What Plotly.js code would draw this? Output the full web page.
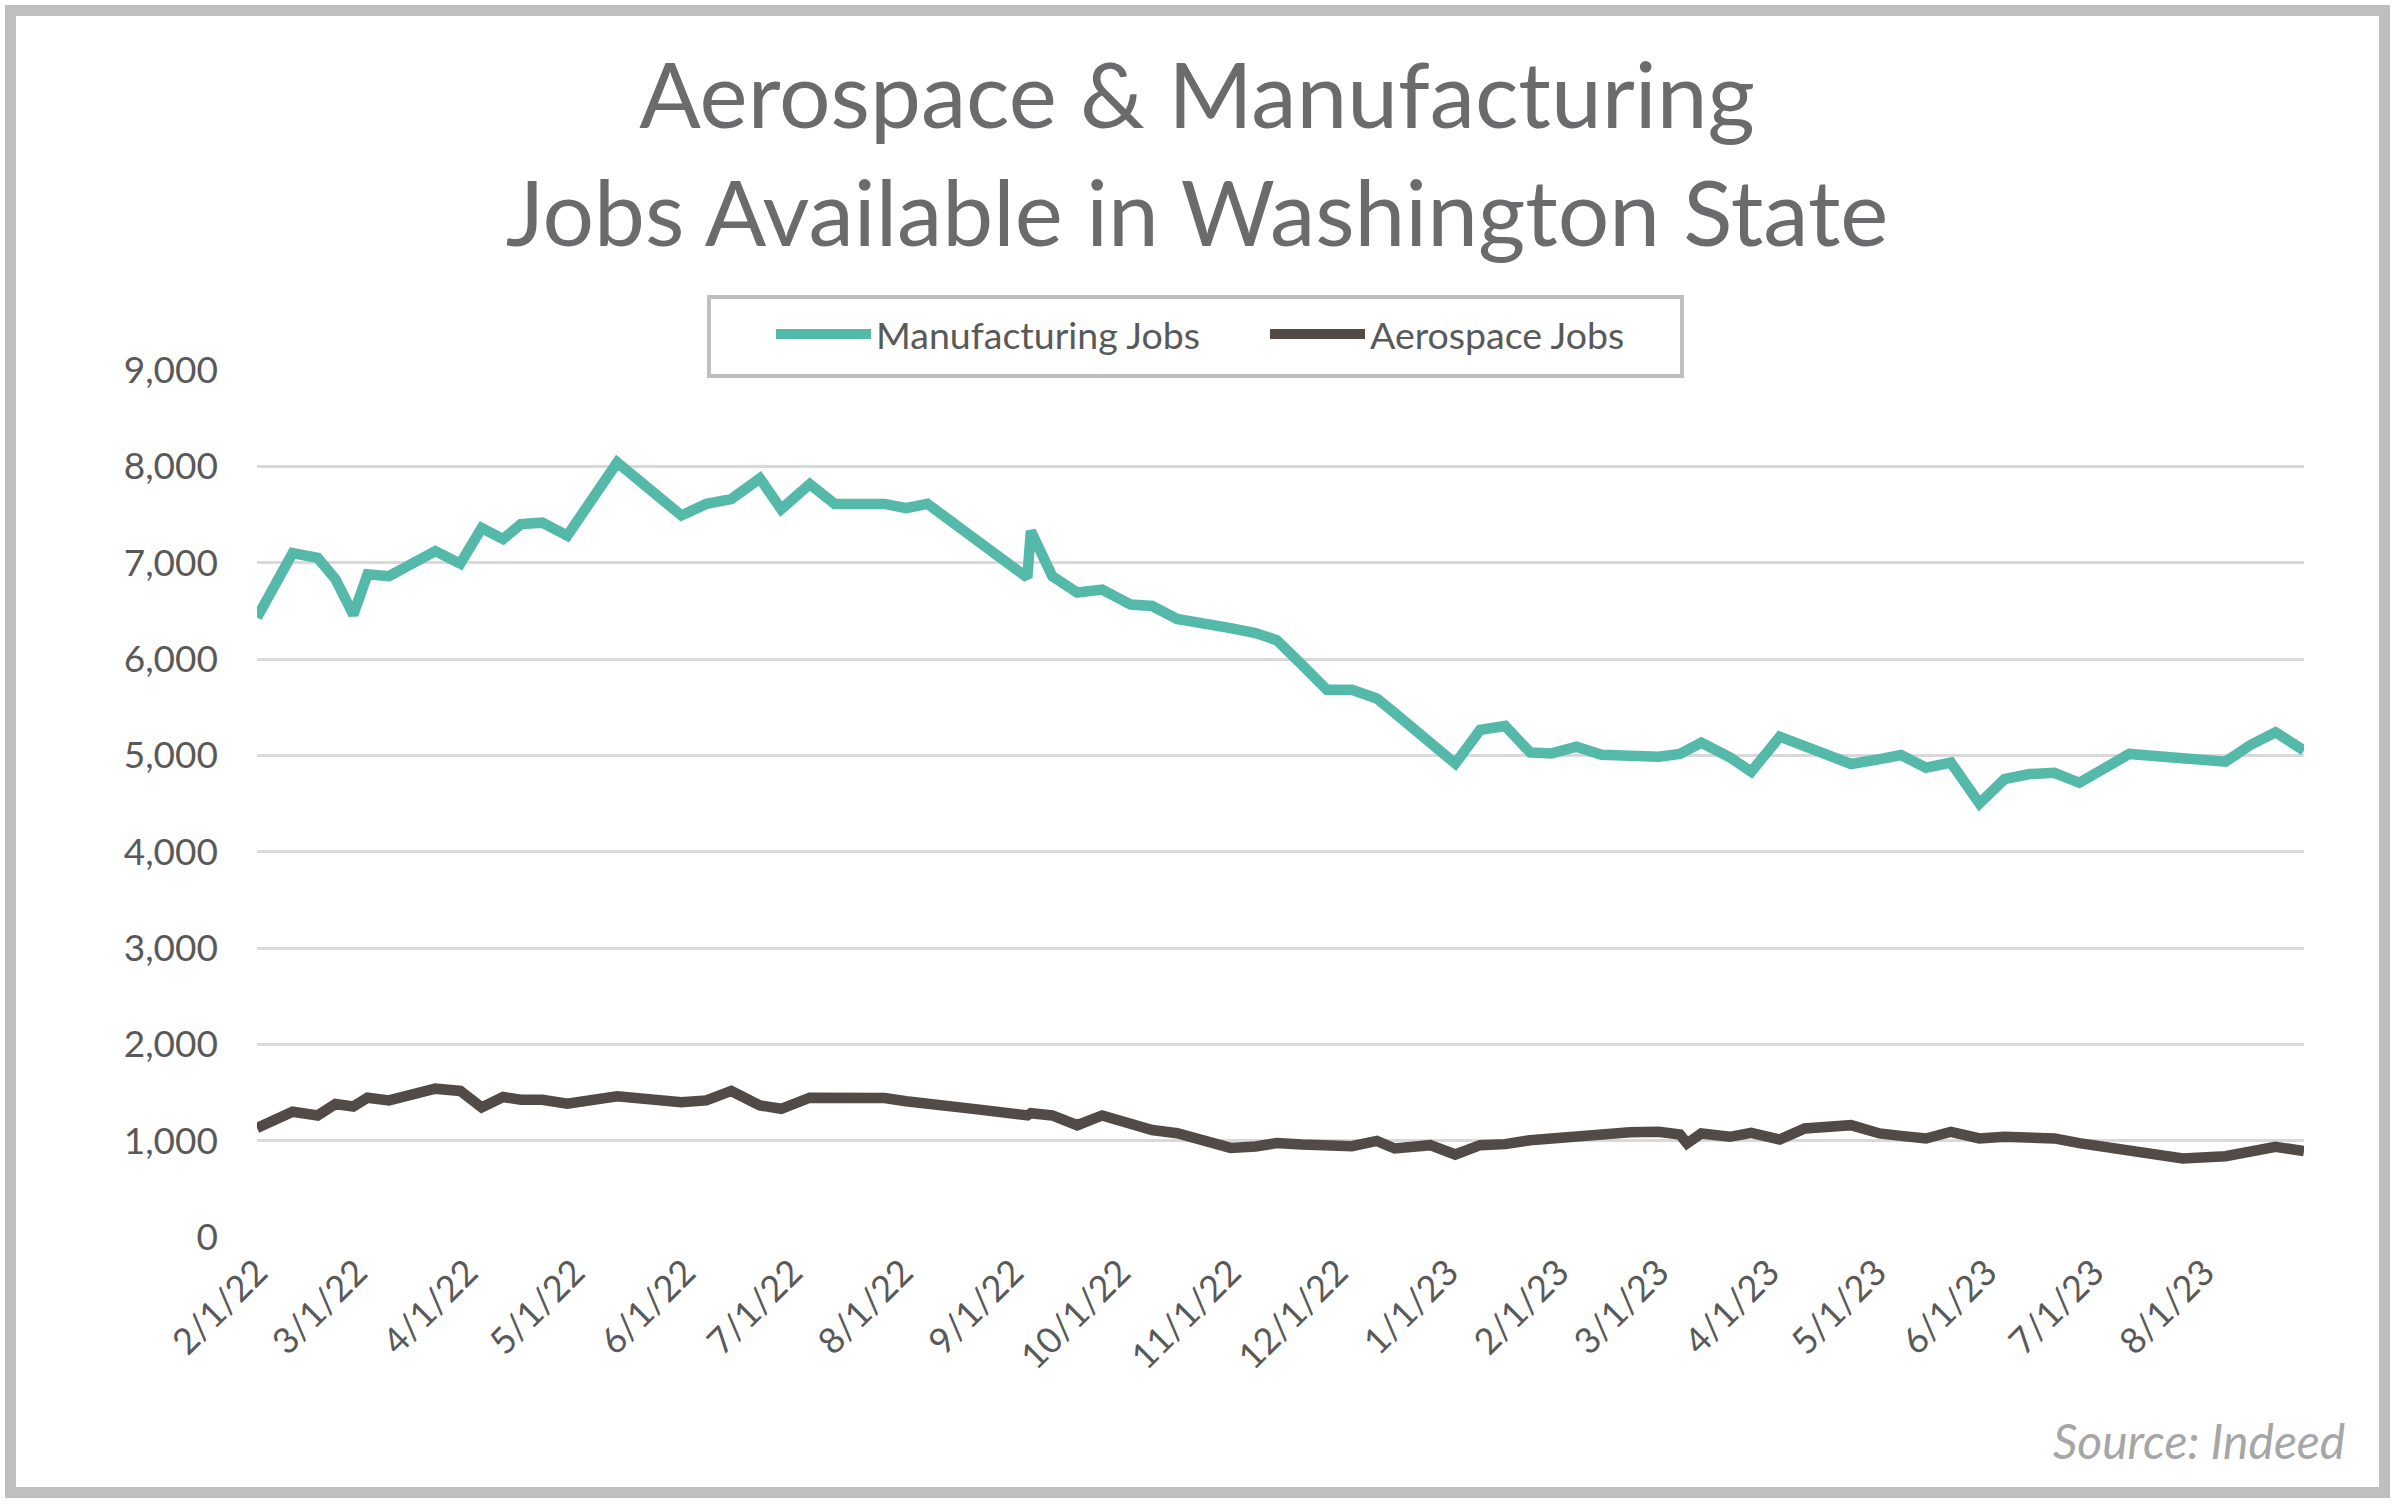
<!DOCTYPE html>
<html>
<head>
<meta charset="utf-8">
<script src="https://cdn.plot.ly/plotly-3.0.1.min.js"></script>
<style>
  html, body { margin: 0; padding: 0; background: #ffffff; }
  #wrap { position: relative; width: 2397px; height: 1507px; overflow: hidden; }
  #chart { position: absolute; left: 0; top: 0; width: 2397px; height: 1507px; }
  #frame { position: absolute; left: 5px; top: 5px; width: 2363px; height: 1471px;
           border: 11px solid #bfbfbf; pointer-events: none; }
</style>
</head>
<body>
<div id="wrap">
  <div id="chart"></div>
  <div id="frame"></div>
</div>
<script>
// ---- data ----
const dates = [
  "2022-02-01","2022-02-11","2022-02-18","2022-02-23","2022-02-28","2022-03-04","2022-03-10",
  "2022-03-16","2022-03-23","2022-03-30","2022-04-05","2022-04-11","2022-04-16","2022-04-22",
  "2022-04-29","2022-05-13","2022-05-22","2022-05-31","2022-06-07","2022-06-14","2022-06-22",
  "2022-06-28","2022-07-06","2022-07-13","2022-07-27","2022-08-02","2022-08-08","2022-08-22",
  "2022-09-05","2022-09-06","2022-09-12","2022-09-19","2022-09-26","2022-10-04","2022-10-10",
  "2022-10-17","2022-10-24","2022-11-01","2022-11-08","2022-11-14","2022-11-21","2022-11-28",
  "2022-12-05","2022-12-12","2022-12-17","2022-12-27","2023-01-03","2023-01-10","2023-01-17",
  "2023-01-24","2023-01-30","2023-02-06","2023-02-13","2023-02-21","2023-03-01","2023-03-07",
  "2023-03-09","2023-03-13","2023-03-21","2023-03-27","2023-04-04","2023-04-11","2023-04-24",
  "2023-05-02","2023-05-08","2023-05-15","2023-05-22","2023-05-30","2023-06-06","2023-06-13",
  "2023-06-20","2023-06-27","2023-07-05","2023-07-11","2023-07-26","2023-08-07","2023-08-14",
  "2023-08-21","2023-08-29"
];
const manufacturingJobs = [
  6430, 7100, 7050, 6830, 6460, 6880, 6860,
  6980, 7120, 6990, 7360, 7245, 7400, 7415,
  7280, 8040, 7765, 7490, 7610, 7660, 7875,
  7555, 7815, 7610, 7610, 7565, 7610, 7226,
  6845, 7330, 6860, 6690, 6720, 6565, 6550,
  6415, 6360, 6320, 6270, 6195, 5940, 5680,
  5680, 5590, 5440, 5140, 4915, 5265, 5305,
  5030, 5020, 5090, 5005, 4995, 4985, 5015,
  5060, 5132, 4980, 4830, 5194, 5090, 4910,
  4960, 5003, 4872, 4924, 4500, 4753, 4806,
  4819, 4715, 4882, 5014, 4969, 4934, 5108,
  5240, 5049
];
const aerospaceJobs = [
  1132, 1300, 1262, 1380, 1355, 1445, 1418,
  1480, 1540, 1516, 1345, 1453, 1425, 1425,
  1385, 1460, 1430, 1400, 1418, 1516, 1366,
  1331, 1446, 1440, 1443, 1410, 1390, 1325,
  1262, 1285, 1262, 1160, 1262, 1185, 1110,
  1077, 995, 925, 940, 975, 960, 943,
  943, 998, 919, 953, 856, 953, 964,
  1005, 1023, 1033, 1081, 1088, 1092, 1064,
  971, 1075, 1040, 1081, 1012, 1127, 1161,
  1075, 1050, 1023, 1092, 1023, 1040, 1035,
  1023, 975, 929, 908, 815, 839, 890,
  936, 891
];
const seriesNames = ["Manufacturing Jobs", "Aerospace Jobs"];
const seriesColors = ["#55b9a9", "#524a46"];
const yTickValues = [0, 1000, 2000, 3000, 4000, 5000, 6000, 7000, 8000, 9000];
const titleText = "Aerospace & Manufacturing<br>Jobs Available in Washington State";
const sourceText = "Source: Indeed";

// ---- layout constants ----
const W = 2397, H = 1507;
const M = { l: 257, r: 93, t: 370, b: 270 };
const plotW = W - M.l - M.r, plotH = H - M.t - M.b;
const FONT = "Lato, 'Noto Sans', sans-serif";
const px2x = px => (px - M.l) / plotW;          // pixel -> paper x
const px2y = py => (M.t + plotH - py) / plotH;  // pixel -> paper y

const traces = [
  { x: dates, y: manufacturingJobs, name: seriesNames[0], type: "scatter", mode: "lines",
    line: { color: seriesColors[0], width: 10.5, shape: "linear" } },
  { x: dates, y: aerospaceJobs, name: seriesNames[1], type: "scatter", mode: "lines",
    line: { color: seriesColors[1], width: 10.5, shape: "linear" } }
];

const layout = {
  width: W, height: H,
  margin: M,
  paper_bgcolor: "#ffffff",
  plot_bgcolor: "#ffffff",
  font: { family: FONT, color: "#595959", size: 36 },
  title: {
    text: titleText,
    font: { family: FONT, size: 91, color: "#6b6b6d" },
    xref: "container", x: 1197 / W, xanchor: "center",
    yref: "container", y: 1 - 128 / H, yanchor: "top"
  },
  showlegend: true,
  legend: {
    orientation: "h",
    xref: "container", x: 771 / W, xanchor: "left",
    yref: "container", y: 1 - 334 / H, yanchor: "middle",
    borderwidth: 0, bgcolor: "rgba(0,0,0,0)",
    font: { family: FONT, size: 37.5, color: "#595959" },
    itemwidth: 95,
    entrywidth: 384, entrywidthmode: "pixels",
    traceorder: "normal"
  },
  shapes: [{
    type: "rect", xref: "paper", yref: "paper",
    x0: px2x(709), x1: px2x(1682), y0: px2y(376), y1: px2y(297),
    line: { color: "#bfbfbf", width: 4 }, fillcolor: "rgba(0,0,0,0)", layer: "above"
  }],
  xaxis: {
    type: "date",
    range: ["2022-02-01", "2023-08-29"],
    tick0: "2022-02-01", dtick: "M1",
    tickformat: "%-m/%-d/%y",
    tickangle: -45,
    showgrid: false, zeroline: false, showline: false,
    ticks: "", ticklabelstandoff: 6,
    tickfont: { family: FONT, size: 36, color: "#595959" },
    fixedrange: true
  },
  yaxis: {
    range: [0, 9000],
    tickvals: yTickValues,
    tickformat: ",d",
    showgrid: true, gridcolor: "#d9d9d9", gridwidth: 3,
    zeroline: false, showline: false, ticks: "",
    ticklabelstandoff: 38,
    tickfont: { family: FONT, size: 37, color: "#595959" },
    fixedrange: true
  },
  annotations: [{
    text: "<i>" + sourceText + "</i>",
    xref: "paper", yref: "paper",
    x: px2x(2347), y: px2y(1440),
    xanchor: "right", yanchor: "middle",
    showarrow: false,
    font: { family: FONT, size: 48, color: "#a6a6a6" }
  }]
};

Plotly.newPlot("chart", traces, layout, { displayModeBar: false, staticPlot: true });
</script>
</body>
</html>
